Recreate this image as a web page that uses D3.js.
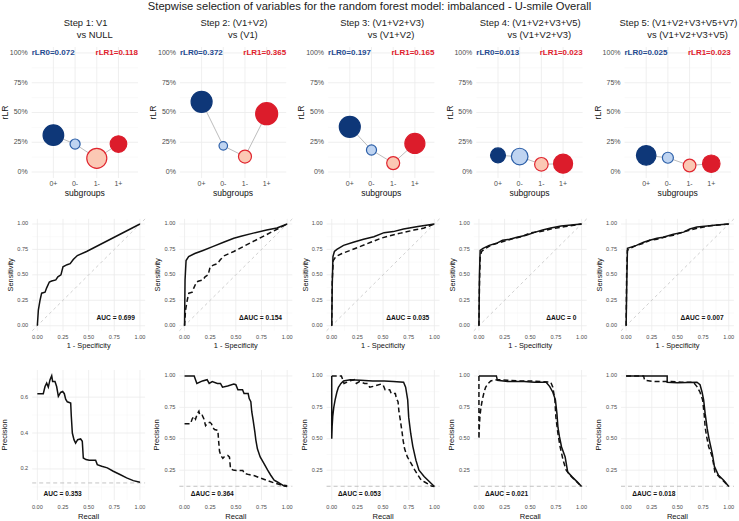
<!DOCTYPE html>
<head>
  <meta charset="utf-8">
  <style>
    body { margin: 0; background: #fff; }
    svg text { font-family: 'Liberation Sans', Arial, sans-serif; }
  </style>
</head>
<body>
  <script src="https://cdn.jsdelivr.net/npm/d3@7"></script>
  <script>
    // ---- data ----
    const mainTitle = "Stepwise selection of variables for the random forest model: imbalanced - U-smile Overall";
    const stepTitles = ["Step 1: V1", "Step 2: (V1+V2)", "Step 3: (V1+V2+V3)", "Step 4: (V1+V2+V3+V5)", "Step 5: (V1+V2+V3+V5+V7)"];
    const vsTitles = ["vs NULL", "vs (V1)", "vs (V1+V2)", "vs (V1+V2+V3)", "vs (V1+V2+V3+V5)"];
    const subgroups = ["0+", "0-", "1-", "1+"];
    // rLR per subgroup, one row per step
    const rLR = [
      [0.31, 0.235, 0.115, 0.235],
      [0.59, 0.22, 0.13, 0.49],
      [0.38, 0.185, 0.075, 0.24],
      [0.14, 0.13, 0.065, 0.07],
      [0.14, 0.12, 0.055, 0.07]
    ];
    // relative point weight per subgroup
    const pointWeight = [
      [0.88, 0.21, 0.83, 0.57],
      [0.91, 0.15, 0.35, 1.00],
      [0.91, 0.21, 0.35, 0.83],
      [0.46, 0.57, 0.38, 0.75],
      [0.79, 0.25, 0.33, 0.63]
    ];
    const rLR0 = ["0.072", "0.372", "0.197", "0.013", "0.025"];
    const rLR1 = ["0.118", "0.365", "0.165", "0.023", "0.023"];
    const rocLabels = ["AUC = 0.699", "\u0394AUC = 0.154", "\u0394AUC = 0.035", "\u0394AUC = 0", "\u0394AUC = 0.007"];
    const prLabels = ["AUC = 0.353", "\u0394AUC = 0.364", "\u0394AUC = 0.053", "\u0394AUC = 0.021", "\u0394AUC = 0.018"];
    const prevalence = 0.122;

    // ROC curves [fpr, tpr] for each model (step k draws roc[k] solid, roc[k-1] dashed)
    const roc1 = [[0,0],[0.01,0.154],[0.026,0.25],[0.042,0.32],[0.075,0.33],[0.09,0.37],[0.117,0.43],[0.14,0.44],[0.18,0.45],[0.2,0.48],[0.23,0.5],[0.25,0.58],[0.29,0.6],[0.32,0.61],[0.35,0.65],[0.39,0.69],[0.48,0.73],[1,1]];
    const roc2 = [[0,0],[0.005,0.45],[0.015,0.64],[0.04,0.68],[0.1,0.71],[0.18,0.74],[0.28,0.78],[0.38,0.82],[0.48,0.86],[0.55,0.88],[0.67,0.91],[0.8,0.94],[0.9,0.96],[1,1]];
    const roc3 = [[0,0],[0.005,0.4],[0.012,0.68],[0.026,0.73],[0.05,0.75],[0.115,0.79],[0.21,0.82],[0.31,0.85],[0.41,0.875],[0.51,0.915],[0.6,0.925],[0.7,0.95],[0.84,0.975],[1,1]];
    const roc4 = [[0,0],[0.005,0.5],[0.012,0.74],[0.04,0.76],[0.1,0.79],[0.17,0.81],[0.23,0.84],[0.3,0.85],[0.37,0.87],[0.46,0.89],[0.55,0.92],[0.62,0.94],[0.7,0.96],[0.8,0.98],[0.9,0.99],[1,1]];
    const roc5 = [[0,0],[0.007,0.47],[0.013,0.76],[0.04,0.77],[0.1,0.79],[0.17,0.82],[0.23,0.84],[0.3,0.86],[0.36,0.87],[0.46,0.9],[0.56,0.92],[0.62,0.95],[0.69,0.97],[0.79,0.98],[0.88,0.99],[1,1]];

    // PR curves [recall, precision]
    const pr1 = [[0,0.619],[0.058,0.619],[0.075,0.659],[0.091,0.678],[0.107,0.656],[0.123,0.696],[0.14,0.719],[0.149,0.687],[0.172,0.687],[0.188,0.659],[0.205,0.604],[0.227,0.626],[0.247,0.631],[0.263,0.619],[0.276,0.589],[0.292,0.574],[0.325,0.567],[0.331,0.493],[0.341,0.4],[0.357,0.363],[0.373,0.344],[0.393,0.363],[0.422,0.367],[0.438,0.354],[0.448,0.261],[0.474,0.252],[0.506,0.248],[0.568,0.248],[0.584,0.224],[0.627,0.215],[0.682,0.206],[0.74,0.187],[0.805,0.169],[0.87,0.15],[0.935,0.135],[1,0.126]];
    const pr2 = [[0,1],[0.094,1],[0.12,0.94],[0.175,0.96],[0.22,0.97],[0.24,0.94],[0.27,0.955],[0.32,0.94],[0.35,0.94],[0.37,0.91],[0.42,0.92],[0.48,0.935],[0.5,0.93],[0.52,0.89],[0.565,0.89],[0.58,0.86],[0.62,0.86],[0.63,0.82],[0.646,0.795],[0.655,0.715],[0.668,0.65],[0.685,0.555],[0.695,0.49],[0.71,0.42],[0.737,0.356],[0.776,0.3],[0.81,0.25],[0.84,0.21],[0.873,0.17],[0.905,0.156],[0.94,0.14],[0.97,0.125],[1,0.12]];
    const pr3 = [[0,1],[0,0.5],[0.004,0.6],[0.01,0.68],[0.02,0.75],[0.033,0.81],[0.05,0.87],[0.065,0.91],[0.09,0.94],[0.115,0.96],[0.18,0.97],[0.28,0.965],[0.4,0.96],[0.51,0.96],[0.6,0.955],[0.7,0.95],[0.72,0.91],[0.74,0.81],[0.75,0.67],[0.77,0.54],[0.79,0.44],[0.82,0.33],[0.85,0.25],[0.9,0.2],[0.95,0.16],[1,0.12]];
    const pr4 = [[0,1],[0.17,1],[0.18,0.965],[0.28,0.955],[0.44,0.955],[0.54,0.95],[0.655,0.95],[0.69,0.915],[0.72,0.87],[0.745,0.81],[0.76,0.7],[0.77,0.59],[0.785,0.515],[0.805,0.435],[0.84,0.355],[0.865,0.235],[0.91,0.195],[0.96,0.155],[1,0.12]];
    const pr5 = [[0,1],[0.4,1],[0.4,0.95],[0.5,0.945],[0.69,0.95],[0.72,0.93],[0.74,0.87],[0.755,0.81],[0.77,0.7],[0.79,0.58],[0.81,0.49],[0.84,0.38],[0.86,0.28],[0.9,0.21],[0.95,0.17],[1,0.12]];

    const rocCurves = [roc1, roc2, roc3, roc4, roc5];
    const prCurves = [pr1, pr2, pr3, pr4, pr5];

    // ---- layout ----
    const width = 739, height = 521;
    const grid = "#ebebeb", minorGrid = "#f4f4f4", tickCol = "#4d4d4d";
    const fillCol = {"0+": "#0e3778", "0-": "#bfd4f1", "1-": "#fbc8b4", "1+": "#dc1c2b"};
    const strokeCol = {"0+": "#0e3778", "0-": "#2c5fa8", "1-": "#e0252f", "1+": "#dc1c2b"};

    const svg = d3.select("body").append("svg")
      .attr("width", width).attr("height", height);

    svg.append("text")
      .attr("x", width / 2).attr("y", 7)
      .attr("text-anchor", "middle").attr("dominant-baseline", "middle")
      .style("font-size", "11.2px").style("fill", "#1a1a1a")
      .text(mainTitle);

    function gridLines(g, x, y, xs, ys, col, w) {
      const [x0, x1] = x.range(), [y0, y1] = y.range();
      g.selectAll(null).data(ys).enter().append("line")
        .attr("x1", x0).attr("x2", x1).attr("y1", d => y(d)).attr("y2", d => y(d))
        .attr("stroke", col).attr("stroke-width", w);
      g.selectAll(null).data(xs).enter().append("line")
        .attr("y1", y0).attr("y2", y1).attr("x1", d => x(d)).attr("x2", d => x(d))
        .attr("stroke", col).attr("stroke-width", w);
    }

    function tickLabels(g, x, y, xticks, yticks, fmtX, fmtY, size, gapX, gapY) {
      g.selectAll(null).data(yticks).enter().append("text")
        .attr("x", x.range()[0] - gapY).attr("y", d => y(d))
        .attr("text-anchor", "end").attr("dominant-baseline", "middle")
        .style("font-size", size + "px").style("fill", tickCol)
        .text(fmtY);
      g.selectAll(null).data(xticks).enter().append("text")
        .attr("x", d => x(d)).attr("y", y.range()[0] + gapX)
        .attr("text-anchor", "middle").attr("dominant-baseline", "hanging")
        .style("font-size", size + "px").style("fill", tickCol)
        .text(fmtX);
    }

    function axisTitles(g, x, y, xt, yt, size, yOff, yGap) {
      const [x0, x1] = x.range(), [yb, yt0] = y.range();
      g.append("text")
        .attr("x", (x0 + x1) / 2).attr("y", yb + yOff)
        .attr("text-anchor", "middle").attr("dominant-baseline", "middle")
        .style("font-size", size + "px").style("fill", "#111").text(xt);
      g.append("text")
        .attr("transform", "translate(" + (x0 - yGap) + "," + ((yb + yt0) / 2) + ") rotate(-90)")
        .attr("text-anchor", "middle").attr("dominant-baseline", "middle")
        .style("font-size", size + "px").style("fill", "#111").text(yt);
    }

    const pct = d3.format(".0%"), f2 = d3.format(".2f"), f1 = d3.format(".1f");
    const quarter = [0, 0.25, 0.5, 0.75, 1], eighth = [0.125, 0.375, 0.625, 0.875];

    for (let k = 0; k < 5; ++k) {
      // ---------- titles ----------
      const cx = 31.7 + 148.2 * k + 53;
      svg.append("text").attr("x", cx + 1).attr("y", 24)
        .attr("text-anchor", "middle").attr("dominant-baseline", "middle")
        .style("font-size", "9.4px").style("fill", "#1a1a1a").text(stepTitles[k]);
      svg.append("text").attr("x", cx + 10).attr("y", 36)
        .attr("text-anchor", "middle").attr("dominant-baseline", "middle")
        .style("font-size", "9.4px").style("fill", "#1a1a1a").text(vsTitles[k]);

      // ---------- U-smile panel ----------
      const g1 = svg.append("g");
      const left1 = 31.7 + 148.2 * k;
      const xU = d3.scaleLinear().domain([0, 4.9]).range([left1, left1 + 106.3]);
      const yU = d3.scaleLinear().domain([-0.05, 1.05]).range([178, 47]);
      const rU = d3.scaleSqrt().domain([0, 1]).range([0, 11]);
      gridLines(g1, xU, yU, [], eighth, minorGrid, 0.5);
      gridLines(g1, xU, yU, [1, 2, 3, 4], quarter, grid, 0.8);
      tickLabels(g1, xU, yU, [1, 2, 3, 4], quarter, d => subgroups[d - 1], pct, 7, 3, 4);
      axisTitles(g1, xU, yU, "subgroups", "rLR", 8.6, 16, 26);

      const pts = subgroups.map((s, i) => ({g: s, x: i + 1, y: rLR[k][i], w: pointWeight[k][i]}));
      g1.append("path").datum(pts)
        .attr("d", d3.line().x(d => xU(d.x)).y(d => yU(d.y)))
        .attr("fill", "none").attr("stroke", "#bdbdbd").attr("stroke-width", 1);
      g1.selectAll(null).data(pts).enter().append("circle")
        .attr("cx", d => xU(d.x)).attr("cy", d => yU(d.y)).attr("r", d => rU(d.w))
        .attr("fill", d => fillCol[d.g]).attr("stroke", d => strokeCol[d.g])
        .attr("stroke-width", 1.2);

      g1.append("text").attr("x", xU.range()[0]).attr("y", yU(1))
        .attr("dominant-baseline", "middle").attr("text-anchor", "start")
        .style("font-size", "8px").style("font-weight", "bold").style("fill", "#1f4a8f")
        .text("rLR0=" + rLR0[k]);
      g1.append("text").attr("x", xU.range()[1]).attr("y", yU(1))
        .attr("dominant-baseline", "middle").attr("text-anchor", "end")
        .style("font-size", "8px").style("font-weight", "bold").style("fill", "#e0202c")
        .text("rLR1=" + rLR1[k]);

      // ---------- ROC panel ----------
      const left2 = 32.2 + 147.2 * k;
      const g2 = svg.append("g");
      const xR = d3.scaleLinear().domain([-0.05, 1.05]).range([left2, left2 + 112.9]);
      const yR = d3.scaleLinear().domain([-0.05, 1.05]).range([330.8, 218.9]);
      gridLines(g2, xR, yR, eighth, eighth, minorGrid, 0.5);
      gridLines(g2, xR, yR, quarter, quarter, grid, 0.8);
      tickLabels(g2, xR, yR, quarter, quarter, f2, f2, 5.6, 4, 4);
      axisTitles(g2, xR, yR, "1 - Specificity", "Sensitivity", 7.4, 15, 21);
      g2.append("line")
        .attr("x1", xR(-0.05)).attr("y1", yR(-0.05)).attr("x2", xR(1.05)).attr("y2", yR(1.05))
        .attr("stroke", "#c4c4c4").attr("stroke-width", 0.8).attr("stroke-dasharray", "3,3");
      const lineR = d3.line().x(d => xR(d[0])).y(d => yR(d[1]));
      if (k > 0) {
        g2.append("path").datum(rocCurves[k - 1]).attr("d", lineR)
          .attr("fill", "none").attr("stroke", "#111").attr("stroke-width", 1.5)
          .attr("stroke-dasharray", "5,3");
      }
      g2.append("path").datum(rocCurves[k]).attr("d", lineR)
        .attr("fill", "none").attr("stroke", "#111").attr("stroke-width", 1.5);
      g2.append("text").attr("x", xR(0.95)).attr("y", yR(0.076))
        .attr("text-anchor", "end").attr("dominant-baseline", "middle")
        .style("font-size", "6.6px").style("font-weight", "bold").style("fill", "#111")
        .text(rocLabels[k]);

      // ---------- PR panel ----------
      const g3 = svg.append("g");
      const xP = d3.scaleLinear().domain([-0.05, 1.05]).range([left2, left2 + 112.9]);
      const yP = d3.scaleLinear().domain(k === 0 ? [0.027, 0.751] : [0.013, 1.047]).range([500, 370]);
      const yMajor = k === 0 ? [0.2, 0.4, 0.6] : [0.25, 0.5, 0.75, 1];
      const yMinor = k === 0 ? [0.1, 0.3, 0.5, 0.7] : eighth;
      gridLines(g3, xP, yP, eighth, yMinor, minorGrid, 0.5);
      gridLines(g3, xP, yP, quarter, yMajor, grid, 0.8);
      tickLabels(g3, xP, yP, quarter, yMajor, f2, k === 0 ? f1 : f2, 5.6, 5, 4);
      axisTitles(g3, xP, yP, "Recall", "Precision", 7.6, 17, k === 0 ? 27 : 22);
      g3.append("line")
        .attr("x1", xP.range()[0]).attr("x2", xP.range()[1])
        .attr("y1", yP(prevalence)).attr("y2", yP(prevalence))
        .attr("stroke", "#b5b5b5").attr("stroke-width", 0.8).attr("stroke-dasharray", "4,3");
      const lineP = d3.line().x(d => xP(d[0])).y(d => yP(d[1]));
      if (k > 0) {
        g3.append("path").datum(prCurves[k - 1]).attr("d", lineP)
          .attr("fill", "none").attr("stroke", "#111").attr("stroke-width", 1.5)
          .attr("stroke-dasharray", "5,3");
      }
      g3.append("path").datum(prCurves[k]).attr("d", lineP)
        .attr("fill", "none").attr("stroke", "#111").attr("stroke-width", 1.5);
      g3.append("text").attr("x", xP(0.06)).attr("y", yP(k === 0 ? 0.061 : 0.056))
        .attr("text-anchor", "start").attr("dominant-baseline", "middle")
        .style("font-size", "6.6px").style("font-weight", "bold").style("fill", "#111")
        .text(prLabels[k]);
    }
  </script>
</body>
